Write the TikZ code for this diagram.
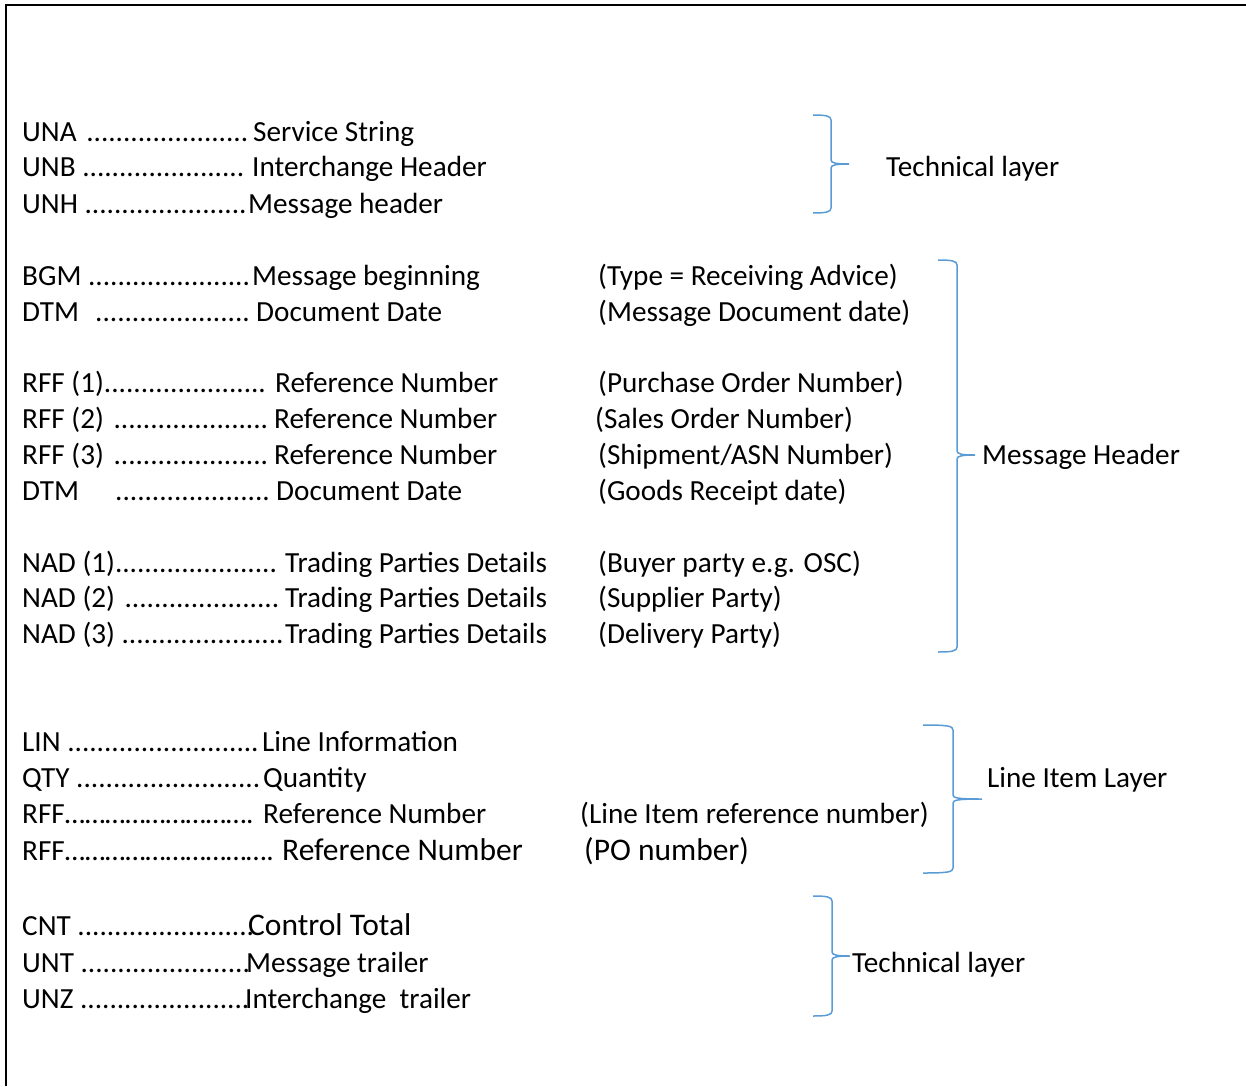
\documentclass[tikz,border=0pt]{standalone}
\usepackage{fontspec}
\setmainfont{Carlito}
\definecolor{bracecol}{HTML}{5B9BD5}
\newcommand{\drawbrace}[6]{%
  \draw[bracebox] (#1,#4) .. controls (#2-5,#4) and (#2,#4+1) .. (#2,#4+5)
    -- (#2,#5-4) .. controls (#2,#5-1) and (#2+5,#5) .. (#3,#5)
    .. controls (#2+5,#5) and (#2,#5+1) .. (#2,#5+4)
    -- (#2,#6-5) .. controls (#2,#6-1) and (#2-5,#6) .. (#1,#6);}
\begin{document}
\begin{tikzpicture}[x=1pt,y=-1pt,
  txt/.style={anchor=base west, inner sep=0pt, font=\fontsize{29.2}{36}\selectfont},
  bigtxt/.style={anchor=base west, inner sep=0pt, font=\fontsize{31.5}{38}\selectfont},
  bracebox/.style={draw=bracecol, line width=1.5pt}]
\useasboundingbox (0,0) rectangle (1246,1086);
\draw[line width=2pt] (6,1086) -- (6,5) -- (1246,5);
% technical layer
\node[txt] (c1) at (22,142) {UNA \kern3pt......................};
\node[txt] (d1) at (253,142) {Service String};
\node[txt] (c2) at (22,177) {UNB ......................};
\node[txt] (d2) at (252,177) {Interchange Header};
\node[txt] (c3) at (22,213) {UNH ......................};
\node[txt] (d3) at (248,213) {Message header};
% message header
\node[txt] (c4) at (22,285) {BGM ......................};
\node[txt] (d4) at (252,285) {Message beginning};
\node[txt] (p4) at (598,285) {(Type = Receiving Advice)};
\node[txt] (c5) at (22,321) {DTM\ \ \kern3pt.....................};
\node[txt] (d5) at (256,321) {Document Date};
\node[txt] (p5) at (598,321) {(Message Document date)};
\node[txt] (c6) at (22,392) {RFF (1)......................};
\node[txt] (d6) at (275,392) {Reference Number};
\node[txt] (p6) at (598,392) {(Purchase Order Number)};
\node[txt] (c7) at (22,428) {RFF (2) \kern3pt.....................};
\node[txt] (d7) at (274,428) {Reference Number};
\node[txt] (p7) at (595,428) {(Sales Order Number)};
\node[txt] (c8) at (22,464) {RFF (3) \kern3pt.....................};
\node[txt] (d8) at (274,464) {Reference Number};
\node[txt] (p8) at (598,464) {(Shipment/ASN Number)};
\node[txt] (c9) at (22,500) {DTM};
\node[txt] (c9b) at (115,500) {.....................};
\node[txt] (d9) at (276,500) {Document Date};
\node[txt] (p9) at (598,500) {(Goods Receipt date)};
\node[txt] (c10) at (22,572) {NAD (1)......................};
\node[txt] (d10) at (285,572) {Trading Parties Details};
\node[txt] (p10) at (598,572) {(Buyer party e.g. OSC)};
\node[txt] (c11) at (22,607) {NAD (2) \kern3pt.....................};
\node[txt] (d11) at (285,607) {Trading Parties Details};
\node[txt] (p11) at (598,607) {(Supplier Party)};
\node[txt] (c12) at (22,643) {NAD (3) ......................};
\node[txt] (d12) at (285,643) {Trading Parties Details};
\node[txt] (p12) at (598,643) {(Delivery Party)};
% line item
\node[txt] (c13) at (22,751) {LIN ..........................};
\node[txt] (d13) at (262,751) {Line Information};
\node[txt] (c14) at (22,787) {QTY .........................};
\node[txt] (d14) at (263,787) {Quantity};
\node[txt] (c15) at (22,823) {RFF……………………….};
\node[txt] (d15) at (263,823) {Reference Number};
\node[txt] (p15) at (580,823) {(Line Item reference number)};
\node[txt] (c16) at (22,860) {RFF………………………….};
\node[bigtxt] (d16) at (282,860) {Reference Number};
\node[bigtxt] (p16) at (584,860) {(PO number)};
% trailer
\node[txt] (c17) at (22,935) {CNT ........................};
\node[bigtxt] (d17) at (248,935) {Control Total};
\node[txt] (c18) at (22,972) {UNT .......................};
\node[txt] (d18) at (246,972) {Message trailer};
\node[txt] (c19) at (22,1008) {UNZ .......................};
\node[txt] (d19) at (245,1008) {Interchange\ \ trailer};
% braces and labels
\drawbrace{813}{831}{849}{115}{164}{213}
\node[txt] (l1) at (886,177) {Technical layer};
\drawbrace{938}{957}{975}{260}{455}{652}
\node[txt] (l2) at (982,464) {Message Header};
\drawbrace{923}{953}{982}{725}{799}{873}
\node[txt] (l3) at (987,787) {Line Item Layer};
\drawbrace{813}{832}{850}{896}{956}{1016}
\node[txt] (l4) at (852,972) {Technical layer};
\end{tikzpicture}
\end{document}
